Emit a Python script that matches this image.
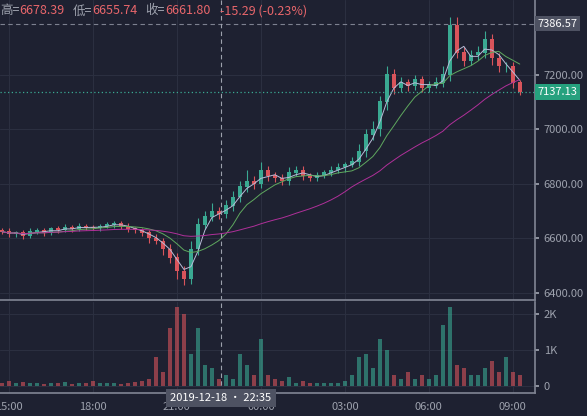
import numpy as np, pandas as pd, seaborn as sns, matplotlib
matplotlib.use("Agg")
import matplotlib.pyplot as plt

closes = [6625,6615,6620,6610,6625,6630,6620,6635,6630,6640,6635,6645,6640,6638,6645,6650,6655,6645,6635,6630,
          6620,6600,6590,6560,6530,6480,6450,6560,6650,6680,6700,6690,6720,6750,6790,6810,6800,6850,6830,6820,
          6810,6840,6850,6830,6820,6830,6840,6850,6860,6870,6880,6920,6980,7000,7100,7200,7150,7170,7160,7180,
          7150,7160,7170,7200,7380,7280,7250,7270,7280,7330,7260,7230,7230,7170,7137]
up_wick = [10,12,8,10,12,8,10,8,10,12,8,10,8,10,8,12,10,8,10,8,
           10,12,15,10,20,15,20,30,25,20,30,15,20,25,20,40,20,30,15,15,
           15,20,15,15,10,15,10,15,15,10,20,25,20,30,20,30,20,20,15,20,
           15,15,20,30,30,30,20,20,25,30,20,20,15,15,10]
dn_wick = [10,8,10,12,8,10,10,8,10,8,10,8,10,8,10,8,10,12,10,10,
           12,15,10,20,20,30,20,15,20,15,15,20,15,20,15,20,20,15,20,15,
           15,15,10,15,10,10,10,10,10,15,10,15,20,20,25,30,20,15,20,15,
           15,15,10,15,25,20,20,15,15,20,25,20,20,20,10]
volumes = [0.10,0.15,0.08,0.12,0.10,0.08,0.06,0.10,0.08,0.12,0.06,0.08,0.10,0.15,0.08,0.10,0.08,0.06,0.10,0.12,
           0.15,0.20,0.80,0.40,1.60,2.20,2.00,0.90,1.60,0.60,0.50,0.20,0.30,0.20,0.90,0.60,0.30,1.30,0.30,0.20,
           0.15,0.25,0.10,0.15,0.10,0.08,0.10,0.08,0.10,0.15,0.30,0.80,0.90,0.50,1.30,1.00,0.30,0.20,0.40,0.20,
           0.30,0.20,0.30,1.70,2.20,0.60,0.50,0.30,0.30,0.50,0.70,0.40,0.80,0.40,0.30]

c = np.array(closes, float)
o = np.r_[c[0] + 5, c[:-1]]
hi = np.maximum(o, c) + np.array(up_wick)
lo = np.minimum(o, c) - np.array(dn_wick)
idx = np.arange(len(c))
upc, dnc = "#3aa992", "#d9545b"
col = [upc if cc >= oo else dnc for oo, cc in zip(o, c)]

BG = "#1e2131"
sns.set_theme(style="dark", rc={"axes.facecolor": BG, "figure.facecolor": BG})
plt.rcParams['font.family'] = ['Noto Sans CJK SC', 'DejaVu Sans']
fig = plt.figure(figsize=(5.87, 4.16), dpi=100)
ax = fig.add_axes([0, 0.279, 0.911, 0.721])
av = fig.add_axes([0, 0.055, 0.911, 0.219])
xl = (-2/7, 533/7)
for a in (ax, av):
    a.set_xlim(*xl)
    a.set_facecolor(BG)
    for s in a.spines.values(): s.set_visible(False)
    a.tick_params(colors="#9da1ad", labelsize=8, length=3)
    a.yaxis.tick_right()
    a.grid(True, color="#2b2f40", lw=0.8)
    a.spines["right"].set_visible(True); a.spines["right"].set_color("#7d8190")

ax.set_ylim(6375, 7473)
ax.set_yticks([6400, 6600, 6800, 7000, 7200])
ax.set_yticklabels(["6400.00", "6600.00", "6800.00", "7000.00", "7200.00"])
ax.spines["bottom"].set_visible(True); ax.spines["bottom"].set_color("#7d8190")
ax.vlines(idx, lo, hi, colors=col, lw=0.8)
ax.bar(idx, np.abs(c - o) + 2, bottom=np.minimum(o, c), color=col, width=0.55, linewidth=0)
s = pd.Series(c)
for w, cl in [(3, "#b8bcd8"), (8, "#5fa85f"), (24, "#b0309a")]:
    sns.lineplot(x=idx, y=s.rolling(w, min_periods=1).mean().values, ax=ax, color=cl, lw=0.7)
ax.set_xticks([1, 13, 25, 37, 49, 61, 73]); ax.set_xticklabels([])

ax.axhline(7386.57, color="#7d8190", ls=(0, (4, 3)), lw=0.8)
ax.axhline(7137.13, color="#3aa992", ls=(0, (1, 2)), lw=0.9)
ax.text(1.005, 7386.57, "7386.57", transform=ax.get_yaxis_transform(), va="center", ha="left",
        fontsize=8, color="white", bbox=dict(fc="#4e5262", ec="none", pad=2))
ax.text(1.005, 7137.13, "7137.13", transform=ax.get_yaxis_transform(), va="center", ha="left",
        fontsize=8, color="white", bbox=dict(fc="#26a17e", ec="none", pad=2))

parts = [("高=", "#9da1ad", 0), ("6678.39", "#e8666b", 8), ("低=", "#9da1ad", 0), ("6655.74", "#e8666b", 8),
         ("收=", "#9da1ad", 0), ("6661.80", "#e8666b", 10), ("-15.29 (-0.23%)", "#e8666b", 0)]
x0 = 0.0
r = fig.canvas.get_renderer()
for t, cl, gap in parts:
    tt = ax.text(x0, 0.985, t, transform=ax.transAxes, va="top", ha="left", fontsize=9, color=cl)
    bb = tt.get_window_extent(renderer=r)
    x0 += (bb.width + gap) / ax.bbox.width

av.set_ylim(-0.19, 2.33)
av.set_yticks([0, 1, 2]); av.set_yticklabels(["0", "1K", "2K"])
av.spines["bottom"].set_visible(True); av.spines["bottom"].set_color("#7d8190")
av.bar(idx, volumes, color=[cl + "99" for cl in col], width=0.6, linewidth=0)
av.set_xticks([1, 13, 25, 37, 49, 61, 73])
av.set_xticklabels(["15:00", "18:00", "21:00", "00:00", "03:00", "06:00", "09:00"])

xc = (221 - 2) / 7
for a in (ax, av):
    a.axvline(xc, color="#9da1ad", ls=(0, (4, 3)), lw=0.8)
av.text(xc, -0.19, "2019-12-18 • 22:35", transform=av.transData, ha="center", va="top",
        fontsize=8, color="white", bbox=dict(fc="#4e5262", ec="none", pad=3), zorder=10)
fig.savefig("out.png", dpi=100, facecolor=BG)
